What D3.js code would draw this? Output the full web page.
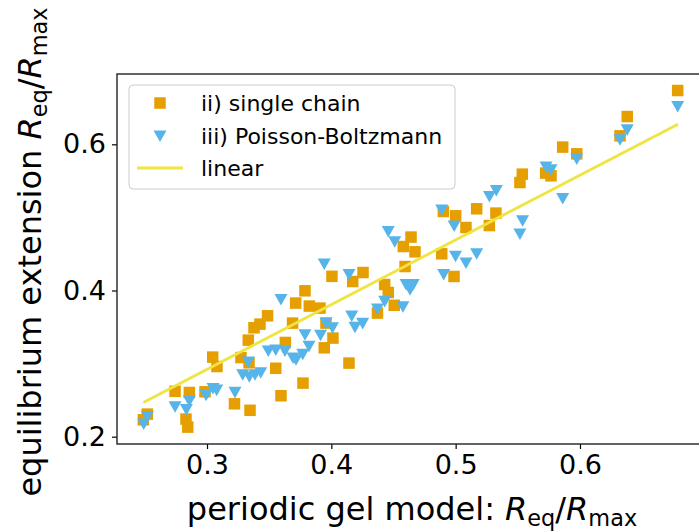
<!DOCTYPE html>
<html>
<head>
<meta charset="utf-8">
<style>
  body { margin: 0; background: #fff; }
  svg { display: block; font-family: "DejaVu Sans", sans-serif; }
</style>
</head>
<body>
<script src="https://cdn.jsdelivr.net/npm/d3@7/dist/d3.min.js"></script>
<script>

// *** DATA ***

// ii) single chain (squares)
var chainX = [0.6786, 0.638, 0.6322, 0.5861, 0.5974, 0.5536, 0.5517, 0.5724, 0.5767, 0.5324,
              0.5271, 0.5169, 0.5, 0.4901, 0.5083, 0.4888, 0.4987, 0.4641, 0.4579, 0.4673,
              0.4593, 0.4429, 0.4458, 0.4506, 0.4371, 0.4255, 0.4172, 0.4005, 0.3788, 0.3713,
              0.3823, 0.3909, 0.3957, 0.3688, 0.3487, 0.3426, 0.3378, 0.3332, 0.363, 0.4013,
              0.3943, 0.4142, 0.3772, 0.3046, 0.308, 0.3273, 0.3338, 0.3553, 0.2743, 0.2858,
              0.2984, 0.3595, 0.3221, 0.3346, 0.252, 0.2488, 0.2831, 0.2845];
var chainY = [0.6736, 0.638, 0.6116, 0.5962, 0.587, 0.5592, 0.5477, 0.5606, 0.5569, 0.5059,
              0.4889, 0.5118, 0.5022, 0.5081, 0.4862, 0.4502, 0.4192, 0.4731, 0.4602, 0.4529,
              0.4328, 0.4082, 0.3973, 0.3798, 0.3691, 0.4246, 0.4123, 0.4194, 0.3996, 0.3828,
              0.3787, 0.3759, 0.3554, 0.3554, 0.3654, 0.354, 0.349, 0.3321, 0.3289, 0.3349,
              0.3216, 0.3007, 0.2733, 0.3089, 0.296, 0.3082, 0.3011, 0.2936, 0.2621, 0.2605,
              0.2614, 0.256, 0.245, 0.2361, 0.2309, 0.2231, 0.2241, 0.2131];

// iii) Poisson-Boltzmann (triangles)
var pbX = [0.6786, 0.638, 0.6322, 0.5974, 0.5727, 0.5767, 0.5861, 0.5327, 0.5272, 0.5538,
           0.5517, 0.4888, 0.4988, 0.4999, 0.5083, 0.5169, 0.4904, 0.4458, 0.451, 0.4601,
           0.4659, 0.4633, 0.4429, 0.4576, 0.4371, 0.4164, 0.4252, 0.419, 0.3957, 0.4009,
           0.3943, 0.4142, 0.3595, 0.3788, 0.3913, 0.382, 0.377, 0.3493, 0.3553, 0.3627,
           0.3692, 0.3716, 0.3332, 0.3287, 0.334, 0.3386, 0.3432, 0.3048, 0.3078, 0.2992,
           0.3225, 0.2743, 0.2858, 0.2834, 0.2521, 0.2491];
var pbY = [0.6517, 0.6198, 0.6062, 0.5798, 0.5688, 0.5651, 0.5257, 0.5368, 0.5286, 0.4953,
           0.4773, 0.51, 0.4881, 0.4468, 0.4375, 0.4502, 0.4219, 0.4807, 0.4666, 0.4082,
           0.4082, 0.401, 0.385, 0.3777, 0.3747, 0.365, 0.355, 0.3497, 0.3554, 0.349,
           0.4361, 0.4219, 0.3877, 0.3394, 0.3387, 0.3237, 0.3127, 0.3171, 0.3185, 0.3171,
           0.3075, 0.3052, 0.3022, 0.2847, 0.2819, 0.2847, 0.2874, 0.2658, 0.2637, 0.2566,
           0.2605, 0.2409, 0.2487, 0.2372, 0.2276, 0.2172];

// linear
var lineX = [0.2488, 0.6788];
var lineY = [0.2468, 0.6276];

// ticks
var xTicks = [0.3, 0.4, 0.5, 0.6];
var yTicks = [0.2, 0.4, 0.6];

var legendLabels = ['ii) single chain', 'iii) Poisson-Boltzmann', 'linear'];

// *** LAYOUT ***

var W = 699, H = 531;
var axL = 117, axR = 704.3, axT = 74, axB = 444;

var cOrange = '#E69F00', cBlue = '#56B4E9', cYellow = '#F0E442';

var x = d3.scaleLinear().domain([0.2276, 0.7000]).range([axL, axR]);
var y = d3.scaleLinear().domain([0.1900, 0.6962]).range([axB, axT]);

var svg = d3.select('body').append('svg')
  .attr('width', W)
  .attr('height', H);

// markers
var sq = 11.5;
function triPath(cx, cy) {
  return 'M' + (cx - 6.5) + ',' + (cy - 5.6) + 'L' + (cx + 6.5) + ',' + (cy - 5.6) + 'L' + cx + ',' + (cy + 6) + 'Z';
}

svg.append('g').selectAll('rect').data(chainX)
  .enter().append('rect')
    .attr('x', function(d) { return x(d) - sq / 2; })
    .attr('y', function(d, i) { return y(chainY[i]) - sq / 2; })
    .attr('width', sq)
    .attr('height', sq)
    .attr('fill', cOrange);

svg.append('g').selectAll('path').data(pbX)
  .enter().append('path')
    .attr('d', function(d, i) { return triPath(x(d), y(pbY[i])); })
    .attr('fill', cBlue);

svg.append('path')
  .datum(d3.zip(lineX, lineY))
  .attr('d', d3.line().x(function(d) { return x(d[0]); }).y(function(d) { return y(d[1]); }))
  .attr('fill', 'none')
  .attr('stroke', cYellow)
  .attr('stroke-width', 2.8);

// axes
var xAxis = svg.append('g')
  .attr('transform', 'translate(0,' + axB + ')')
  .call(d3.axisBottom(x).tickValues(xTicks).tickFormat(d3.format('.1f')).tickSize(5).tickPadding(6));
var yAxis = svg.append('g')
  .attr('transform', 'translate(' + axL + ',0)')
  .call(d3.axisLeft(y).tickValues(yTicks).tickFormat(d3.format('.1f')).tickSize(5).tickPadding(6));

[xAxis, yAxis].forEach(function(g) {
  g.select('.domain').remove();
  g.selectAll('.tick line').attr('stroke', '#000').attr('stroke-width', 1.2);
  g.selectAll('.tick text')
    .attr('fill', '#000')
    .style('font-family', '"DejaVu Sans", sans-serif')
    .style('font-size', '27px');
});

// spines (right one falls outside the canvas)
svg.append('rect')
  .attr('x', axL).attr('y', axT)
  .attr('width', axR - axL).attr('height', axB - axT)
  .attr('fill', 'none')
  .attr('stroke', '#222')
  .attr('stroke-width', 1.4);

// FUNCTION: append R_eq/R_max mathtext to a text node
function addRatio(t, fs) {
  var sub = fs * 0.7, drop = fs * 0.2;
  t.append('tspan').style('font-style', 'italic').text('R');
  t.append('tspan').attr('dy', drop).style('font-size', sub + 'px').text('eq');
  t.append('tspan').attr('dy', -drop).text('/');
  t.append('tspan').style('font-style', 'italic').text('R');
  t.append('tspan').attr('dy', drop).style('font-size', sub + 'px').text('max');
}

var labSize = 32;

var xl = svg.append('text')
  .attr('x', 412)
  .attr('y', 520)
  .attr('text-anchor', 'middle')
  .style('font-size', labSize + 'px')
  .text('periodic gel model: ');
addRatio(xl, labSize);

var yl = svg.append('text')
  .attr('transform', 'translate(41,252) rotate(-90)')
  .attr('text-anchor', 'middle')
  .style('font-size', labSize + 'px')
  .text('equilibrium extension ');
addRatio(yl, labSize);

// legend
var lg = svg.append('g');
lg.append('rect')
  .attr('x', 129).attr('y', 85)
  .attr('width', 326).attr('height', 104)
  .attr('rx', 4)
  .attr('fill', '#fff').attr('fill-opacity', 0.8)
  .attr('stroke', '#cccccc').attr('stroke-width', 1);

var rowY = [103, 136, 168];
lg.append('rect')
  .attr('x', 160 - sq / 2).attr('y', rowY[0] - sq / 2)
  .attr('width', sq).attr('height', sq)
  .attr('fill', cOrange);
lg.append('path')
  .attr('d', triPath(160, rowY[1]))
  .attr('fill', cBlue);
lg.append('line')
  .attr('x1', 137).attr('x2', 183)
  .attr('y1', rowY[2]).attr('y2', rowY[2])
  .attr('stroke', cYellow).attr('stroke-width', 2.8);

lg.selectAll('text.lab').data(legendLabels)
  .enter().append('text')
    .attr('class', 'lab')
    .attr('x', 201)
    .attr('y', function(d, i) { return rowY[i] + 8; })
    .style('font-size', '22px')
    .attr('fill', '#000')
    .text(function(d) { return d; });

</script>
</body>
</html>
